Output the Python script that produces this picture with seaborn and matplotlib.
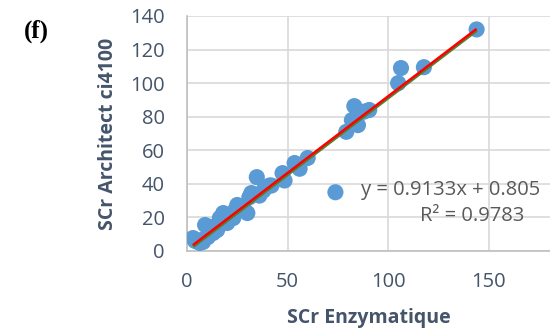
import matplotlib
matplotlib.use("Agg")
import matplotlib.pyplot as plt
import seaborn as sns
import numpy as np
import pandas as pd

# Data
scr_enzymatique = [144, 106.4, 105, 117.8, 83.2, 90.6, 79.2, 85, 82, 88,
                   60, 53.5, 56, 47.5, 48.5, 42, 73.8,
                   34.7, 41, 32, 31, 25, 30, 24, 18, 16.3, 9, 12, 15, 20, 23,
                   3, 5.5, 8, 10.4, 13, 6.4, 4, 7, 11, 14, 19, 22, 27, 28, 36, 38]
scr_architect = [132, 109, 100, 109.5, 86.3, 84, 71, 75, 78, 83,
                 55.4, 52.4, 49, 46.4, 42, 39, 35,
                 44, 39, 34.5, 32, 27.4, 22.6, 24.4, 22.6, 19.6, 15.5, 14.3, 12.5, 16.7, 19.6,
                 7.7, 5.4, 5.4, 8.3, 10.7, 4.8, 6, 6.5, 10, 12, 17, 20, 25, 26, 33, 36]
slope = 0.9133
intercept = 0.805
equation_label = "y = 0.9133x + 0.805"
r2_label = "R² = 0.9783"
x_ticks = [0, 50, 100, 150]
y_ticks = [0, 20, 40, 60, 80, 100, 120, 140]

df = pd.DataFrame({"x": scr_enzymatique, "y": scr_architect})

sns.set_theme(style="white")
plt.rcParams['font.family'] = ['Open Sans', 'DejaVu Sans']

fig = plt.figure(figsize=(5.5, 3.31), dpi=100)
ax = fig.add_axes([0.34, 0.2417, 0.66, 0.71])

sns.scatterplot(data=df, x="x", y="y", ax=ax, s=135, color="#5B9BD5",
                edgecolor="none", alpha=1.0, zorder=3)

xl = np.array([min(scr_enzymatique), max(scr_enzymatique)])
ax.plot(xl, slope * xl + intercept - 0.8, color="#548235", lw=2.6, zorder=4,
        solid_capstyle="butt")
ax.plot(xl, slope * xl + intercept, color="#FF0000", lw=1.8, zorder=5,
        solid_capstyle="butt")

ax.set_xlim(0, 180.5)
ax.set_ylim(0, 140)
ax.set_xticks(x_ticks)
ax.set_yticks(y_ticks)
ax.grid(True, color="#D9D9D9", lw=1.2)
ax.set_axisbelow(True)
for s in ["top", "right"]:
    ax.spines[s].set_visible(False)
for s in ["left", "bottom"]:
    ax.spines[s].set_color("#BFBFBF")
    ax.spines[s].set_linewidth(1.2)

tick_color = "#44546A"
ax.tick_params(axis="both", labelsize=14.5, colors=tick_color, length=0)
ax.tick_params(axis="y", pad=16)
ax.tick_params(axis="x", pad=15)
ax.set_xlabel("SCr Enzymatique", fontsize=14, fontweight="bold", color=tick_color)
ax.set_ylabel("SCr Architect ci4100", fontsize=14, fontweight="bold", color=tick_color)
ax.yaxis.set_label_coords((108 - 187) / 363, 0.5)
ax.xaxis.set_label_coords(0.5, (251 - 318) / 235)
ax.xaxis.label.set_va("center")
ax.yaxis.label.set_va("center")

fig.text(540 / 550, 1 - 190 / 331, equation_label, ha="right", va="center",
         fontsize=14.5, color="#595959")
fig.text(524 / 550, 1 - 216 / 331, r2_label, ha="right", va="center",
         fontsize=14.5, color="#595959")
fig.text(36 / 550, 1 - 31 / 331, "(f)", ha="center", va="center", fontsize=18,
         fontweight="bold", family=["Liberation Serif", "DejaVu Serif"], color="black")

fig.savefig("out.png", dpi=100)
